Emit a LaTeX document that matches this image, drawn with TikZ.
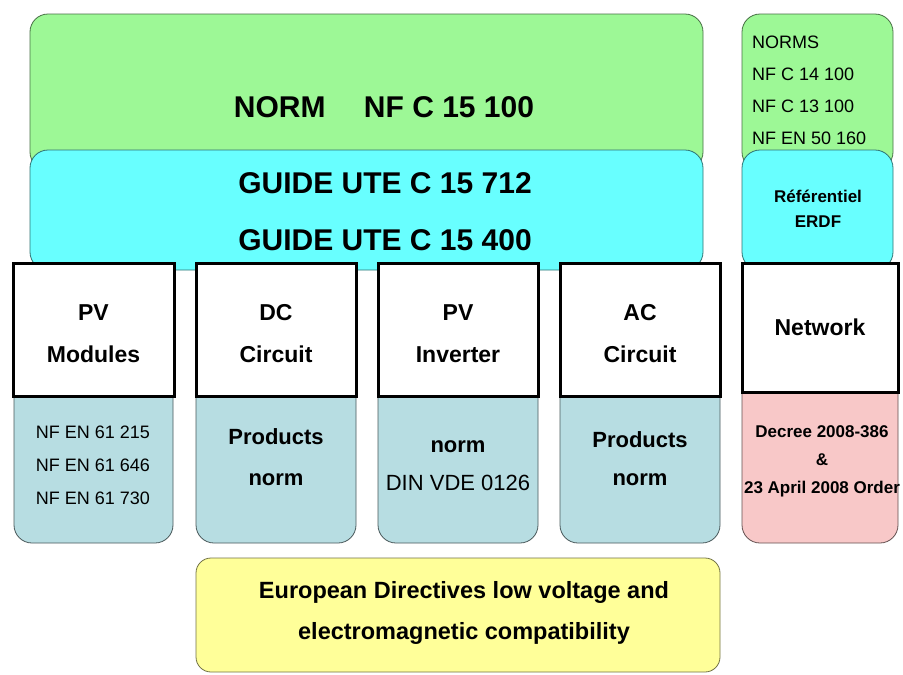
\documentclass[tikz,border=0pt]{standalone}
\usepackage{fontspec}
\setmainfont{Liberation Sans}
\definecolor{normgreen}{RGB}{157,248,150}
\definecolor{guidecyan}{RGB}{104,255,255}
\definecolor{stdblue}{RGB}{183,221,226}
\definecolor{decreepink}{RGB}{248,200,200}
\definecolor{diryellow}{RGB}{255,255,153}

\begin{document}
\begin{tikzpicture}[x=1pt, y=-1pt,
    box/.style={inner sep=0pt, outer sep=0pt, anchor=north west},
    grn/.style={box, fill=normgreen, draw=normgreen!45!black, line width=0.8pt, rounded corners=18pt},
    cyn/.style={box, fill=guidecyan, draw=guidecyan!45!black, line width=0.8pt, rounded corners=18pt},
    std/.style={box, fill=stdblue, draw=stdblue!40!black, line width=0.8pt, rounded corners=18pt},
    part/.style={box, fill=white, draw=black, line width=3pt, align=center,
                 font=\fontsize{23}{42}\selectfont\bfseries},
    txt/.style={inner sep=0pt, align=center},
  ]
  \useasboundingbox (0,0) rectangle (903,675);
  \fill[white] (0,0) rectangle (903,675);
  % norm and guide layers
  \node[grn, minimum width=673, minimum height=156] (normbox) at (30,14) {};
  \node[cyn, minimum width=673, minimum height=120] (guidebox) at (30,150) {};
  \node[grn, minimum width=151, minimum height=156] (normsbox) at (742,14) {};
  \node[cyn, minimum width=151, minimum height=120] (erdfbox) at (742,150) {};
  \node[txt, font=\fontsize{30}{30}\selectfont\bfseries] (normtxt) at (384,107) {NORM\quad\ NF C 15 100};
  \node[txt, font=\fontsize{30}{57}\selectfont\bfseries] (guidetxt) at (385,212) {GUIDE UTE C 15 712\\GUIDE UTE C 15 400};
  \node[txt, anchor=west, align=left, font=\fontsize{18}{32}\selectfont] (normslist) at (752,90) {NORMS\\NF C 14 100\\NF C 13 100\\NF EN 50 160};
  \node[txt, font=\fontsize{17}{25}\selectfont\bfseries] (erdftxt) at (818,209) {Référentiel\\ERDF};
  % product norms
  \node[std, minimum width=159, minimum height=167] (modnorms) at (14,376) {};
  \node[std, minimum width=160, minimum height=167] (dcnorms) at (196,376) {};
  \node[std, minimum width=160, minimum height=167] (invnorms) at (378,376) {};
  \node[std, minimum width=160, minimum height=167] (acnorms) at (560,376) {};
  \node[std, fill=decreepink, draw=decreepink!40!black, minimum width=156, minimum height=167] (decreebox) at (742,376) {};
  \node[txt, font=\fontsize{18}{33}\selectfont] (modtxt) at (93,465) {NF EN 61 215\\NF EN 61 646\\NF EN 61 730};
  \node[txt, font=\fontsize{22}{41}\selectfont\bfseries] (dctxt) at (276,457) {Products\\norm};
  \node[txt, font=\fontsize{22}{38}\selectfont] (invtxt) at (458,466) {\bfseries norm\\DIN VDE 0126};
  \node[txt, font=\fontsize{22}{38}\selectfont\bfseries] (actxt) at (640,459) {Products\\norm};
  \node[txt, font=\fontsize{17}{28}\selectfont\bfseries] (decreetxt) at (822,461) {Decree 2008-386\\\&\\23 April 2008 Order};
  % installation parts
  \node[part, minimum width=161, minimum height=133, text height=66pt] (modules) at (13,263) {PV\\Modules};
  \node[part, minimum width=160, minimum height=133, text height=66pt] (dccirc) at (196,263) {DC\\Circuit};
  \node[part, minimum width=160, minimum height=133, text height=66pt] (inverter) at (378,263) {PV\\Inverter};
  \node[part, minimum width=160, minimum height=133, text height=66pt] (accirc) at (560,263) {AC\\Circuit};
  \node[part, minimum width=156, minimum height=129] (network) at (742,263) {Network};
  % directives
  \node[box, fill=diryellow, draw=diryellow!45!black, line width=0.8pt, rounded corners=15pt,
        minimum width=524, minimum height=114] (eudirbox) at (196,558) {};
  \node[txt, font=\fontsize{23.5}{41}\selectfont\bfseries] (eudirtxt) at (464,613) {European Directives low voltage and\\electromagnetic compatibility};
\end{tikzpicture}
\end{document}
